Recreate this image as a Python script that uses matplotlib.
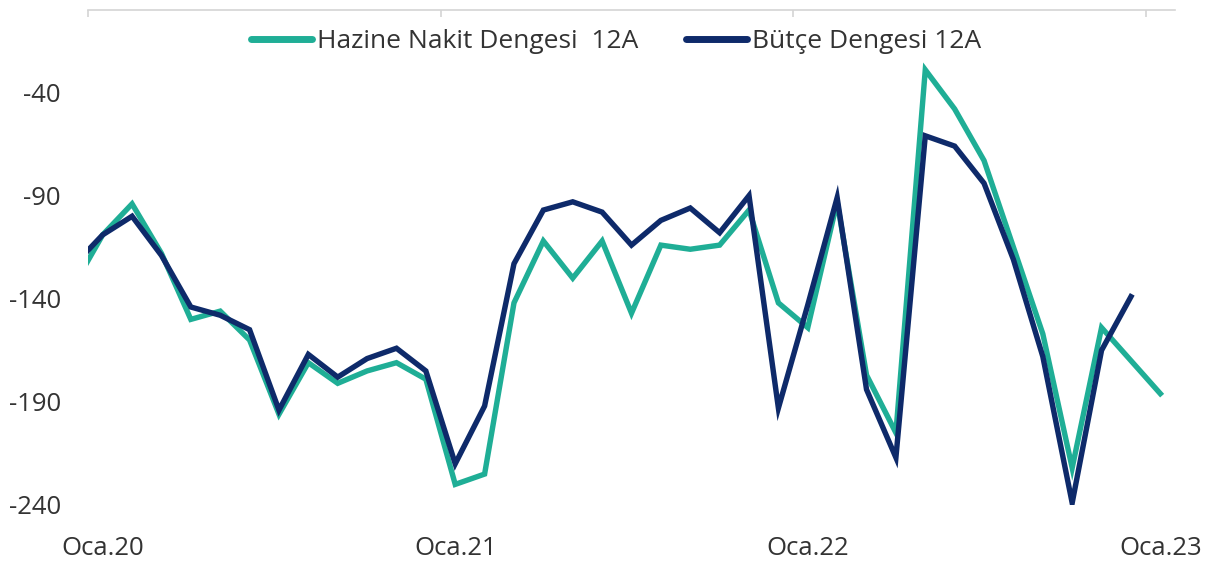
import matplotlib
matplotlib.use("Agg")
import matplotlib.pyplot as plt
import numpy as np

# Months: Ara.19 (index -1) .. Oca.23 (index 36)
hazine = [-134, -109, -94, -118, -150, -146, -160, -196, -171, -181, -175, -171, -179,
          -230, -225, -142, -112, -130, -112, -147, -114, -116, -114, -97, -142,
          -154, -93, -177, -205, -29, -48, -73, -115, -157, -222, -154, -170, -186]
butce = [-124, -109, -100, -119, -144, -148, -155, -194, -167, -178, -169, -164, -175,
         -220, -192, -123, -97, -93, -98, -114, -102, -96, -108, -90, -193,
         -143, -91, -184, -217, -61, -66, -84, -121, -168, -239, -165, -139]
tick_labels = ["Oca.20", "Oca.21", "Oca.22", "Oca.23"]
y_ticks = [-240, -190, -140, -90, -40]

x_h = np.arange(len(hazine)) - 1
x_b = np.arange(len(butce)) - 1

W, H = 1214, 561
fig = plt.figure(figsize=(W / 100, H / 100), dpi=100)
ax = fig.add_axes([88 / W, 1 - 505 / H, (1175 - 88) / W, (505 - 10) / H])

c_h = "#1FAE96"
c_b = "#0E2A6A"
ax.plot(x_h, hazine, color=c_h, lw=3.9, solid_joinstyle="miter", label="Hazine Nakit Dengesi  12A")
ax.plot(x_b, butce, color=c_b, lw=3.9, solid_joinstyle="miter", label="Bütçe Dengesi 12A")

ax.set_xlim(-0.5, 36.5)
ax.set_ylim(-240, 0)

for s in ["left", "right", "bottom"]:
    ax.spines[s].set_visible(False)
ax.spines["top"].set_color("#D4D4D4")
ax.spines["top"].set_linewidth(1.2)

font = "Open Sans"
txtc = "#333333"
fs = 18.5
ax.set_xticks([0, 12, 24, 36])
ax.set_xticklabels(tick_labels, fontsize=fs, color=txtc, fontfamily=font)
ax.set_xticks([-0.5, 11.5, 23.5, 35.5], minor=True)
ax.tick_params(axis="x", which="major", bottom=False, top=False, labelbottom=True, labeltop=False, pad=19)
ax.tick_params(axis="x", which="minor", bottom=False, top=True, direction="in", length=5, color="#D4D4D4", width=1.2)

ax.set_yticks(y_ticks)
ax.set_yticklabels([str(v) for v in y_ticks], fontsize=fs, color=txtc, fontfamily=font)
ax.tick_params(axis="y", left=False, pad=16)

leg = fig.legend(loc="center", bbox_to_anchor=(616 / W, 1 - 42 / H), ncol=2, frameon=False,
                 prop={"family": font, "size": 19}, handlelength=2.3, handletextpad=0.2,
                 columnspacing=1.8)
for t in leg.get_texts():
    t.set_color(txtc)
for l in leg.get_lines():
    l.set_linewidth(5)
    l.set_solid_capstyle("round")

fig.savefig("out.png", dpi=100)
